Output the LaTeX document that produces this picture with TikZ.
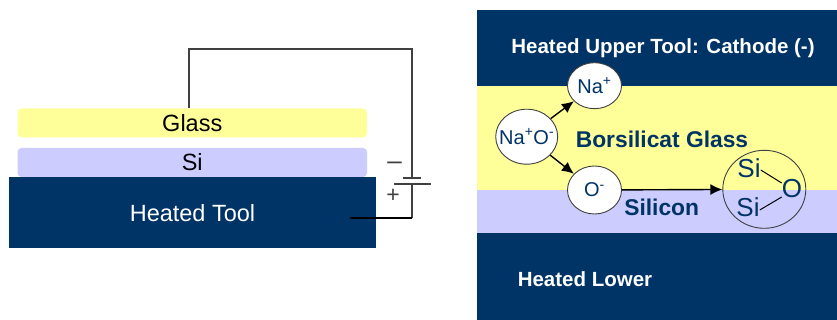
\documentclass[tikz,border=0pt]{standalone}
\usepackage{fontspec}
\setmainfont{Liberation Sans}
\usetikzlibrary{arrows.meta}
\usetikzlibrary{shapes.geometric}

\definecolor{navy}{HTML}{003366}
\definecolor{glassyellow}{HTML}{FFFF99}
\definecolor{silav}{HTML}{CCCCFF}

\tikzset{
  layer/.style={inner sep=0pt,font=\fontsize{23.5}{26}\selectfont},
  band/.style={inner sep=0pt,font=\fontsize{20.5}{24}\selectfont\bfseries},
  bandtext/.style={inner sep=0pt,text=navy,font=\fontsize{22.8}{26}\selectfont\bfseries},
  ion/.style={ellipse,draw=black!75,line width=.9pt,fill=white,inner sep=-12pt,text=navy,font=\fontsize{20}{24}\selectfont},
  atom/.style={inner sep=0pt,text=navy,font=\fontsize{26}{28}\selectfont},
  wire/.style={draw=black!75,line width=1.1pt},
  push/.style={-{Latex[length=12pt,width=11pt]},line width=1.4pt}
}

\begin{document}
\begin{tikzpicture}[x=1pt,y=-1pt]
\useasboundingbox (0,0) rectangle (837,320);

\node[layer,fill=glassyellow,rounded corners=4pt,minimum width=349.5pt,minimum height=29pt] (glass) at (192.25,123) {Glass};
\node[layer,fill=silav,rounded corners=4pt,minimum width=349.5pt,minimum height=29pt] (si) at (192.25,162.5) {Si};
\node[layer,fill=navy,text=white,minimum width=367pt,minimum height=70.5pt] (tool) at (192.5,212.75) {Heated Tool};

\coordinate (topleft) at (189,49);
\coordinate (glasstop) at (189,108.5);
\coordinate (topright) at (412,49);
\coordinate (platea) at (412,178);
\coordinate (plateb) at (412,184);
\coordinate (botright) at (412,218);
\coordinate (toolin) at (350,218);

\draw[wire] (glasstop) -- (topleft) -- (topright) -- (platea);
\draw[wire] (plateb) -- (botright);
\draw[line width=1.1pt] (botright) -- (toolin);
\draw[wire] ([xshift=-9pt]platea) -- ([xshift=9pt]platea);
\draw[wire] ([xshift=-18pt]plateb) -- ([xshift=19pt]plateb);

\node[inner sep=0pt,text=black!75,font=\fontsize{26}{28}\selectfont] (minus) at (394.5,166) {--};
\node[inner sep=0pt,text=black!75,font=\fontsize{23}{26}\selectfont] (plus) at (393,196) {+};

\fill[navy] (476.5,10.5) rectangle (837,86);
\fill[glassyellow] (476.5,86) rectangle (837,190);
\fill[silav] (476.5,190) rectangle (837,233);
\fill[navy] (476.5,233) rectangle (837,320);

\node[band,text=white] (upper) at (663,48) {Heated Upper Tool: Cathode (-)};
\node[band,text=white] (lower) at (585,279) {Heated Lower};
\node[bandtext] (borsil) at (662,139) {Borsilicat Glass};
\node[bandtext] (silicon) at (661.7,207) {Silicon};

\node[ion,minimum width=54pt,minimum height=46pt] (na) at (594.5,85.7) {Na\textsuperscript{+}};
\node[ion,minimum width=62pt,minimum height=55pt] (nao) at (526.7,136.7) {Na\textsuperscript{+}O\textsuperscript{-}};
\node[ion,minimum width=54pt,minimum height=48pt] (oion) at (594.5,190) {O\textsuperscript{-}};
\node[ellipse,draw=black!75,line width=.9pt,inner sep=0pt,minimum width=83pt,minimum height=78pt] (bond) at (764.3,189.3) {};

\node[atom] (siup) at (749,168) {Si};
\node[atom] (silow) at (748,207) {Si};
\node[atom] (oxy) at (792,189) {O};

\draw[line width=1pt] ([yshift=-2pt]siup.east) -- ([yshift=6pt]oxy.west);
\draw[line width=1pt] ([yshift=-3pt]silow.east) -- ([yshift=-8pt]oxy.west);

\draw[push] (nao) -- (na);
\draw[push] (nao) -- (oion);
\draw[push] (oion) -- (bond);

\end{tikzpicture}
\end{document}
